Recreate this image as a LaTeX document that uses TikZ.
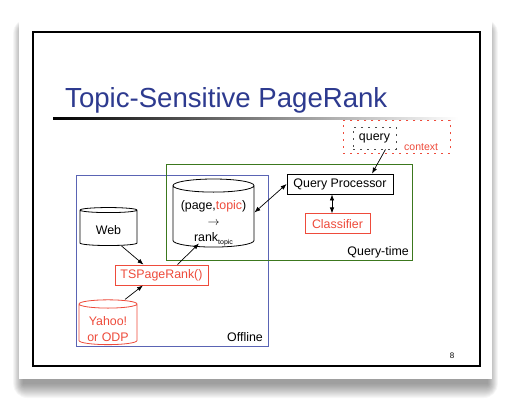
\documentclass[tikz,border=0pt]{standalone}
\usepackage{fontspec}
\setmainfont{Liberation Sans}
\usetikzlibrary{positioning,shapes.geometric,arrows.meta}
\definecolor{titleblue}{HTML}{2D3A8F}
\definecolor{offblue}{HTML}{5A64B4}
\definecolor{qgreen}{HTML}{3C781E}
\definecolor{tsred}{HTML}{EE4B3B}

\begin{document}
\begin{tikzpicture}[
  x=1pt, y=-1pt,
  every node/.style={font=\fontsize{12.4}{16}\selectfont},
  box/.style={draw, line width=0.8pt, inner sep=0, minimum height=20},
  redbox/.style={box, draw=tsred, text=tsred},
  drum/.style={cylinder, shape border rotate=90, aspect=0.2, draw, fill=white, line width=0.8pt, inner sep=0},
  zone/.style={draw, line width=1pt, inner sep=0, anchor=north west},
  arr/.style={-{Latex[length=6pt,width=4.5pt]}, line width=0.7pt},
  dbl/.style={{Latex[length=6pt,width=4.5pt]}-{Latex[length=6pt,width=4.5pt]}, line width=0.7pt}
]
\useasboundingbox (0,0) rectangle (524,412);
% soft shadow under the sheet
\foreach \i in {0,...,14}
  \fill[black, opacity=0.032, rounded corners=\i] (23-0.7*\i,30-0.8*\i) rectangle (488+0.7*\i,384+\i);
\node[fill=white, minimum width=473, minimum height=362, anchor=north west, inner sep=0] (paper) at (19,17) {};
\node[draw, line width=2pt, minimum width=447, minimum height=334, anchor=north west, inner sep=0] (frame) at (32,31) {};

% title
\node[font=\fontsize{27.6}{30}\selectfont, text=titleblue, anchor=base west, inner sep=0] (title) at (65,107) {Topic-Sensitive PageRank};
\shade[left color=black, right color=white] (53,117) rectangle (458,119.5);

% offline / query-time areas
\node[zone, draw=offblue, minimum width=192, minimum height=171] (offline) at (76,175) {};
\node[zone, draw=qgreen, minimum width=246, minimum height=96] (qtime) at (166,164) {};
\node[anchor=base east, inner sep=0] (offlbl) at ([shift={(-6,-6)}]offline.south east) {Offline};
\node[anchor=base east, inner sep=0] (qtlbl) at ([shift={(-4,-6)}]qtime.south east) {Query-time};

% query and context
\node[draw=tsred, dash pattern=on 2pt off 5pt, line width=0.8pt, minimum width=107, minimum height=33, anchor=north west, inner sep=0] (ctx) at (343,120) {};
\node[draw=black!70, dash pattern=on 2pt off 5pt, line width=0.8pt, minimum width=43, minimum height=22, inner sep=0] (qry) at (374.5,138) {query};
\node[text=tsred, font=\fontsize{10.5}{12}\selectfont, anchor=base west, inner sep=0] (ctxlbl) at (404,150) {context};

\node[box, minimum width=106] (qp) at (340,184) {Query Processor};
\node[redbox, minimum width=65, below=19pt of qp, xshift=-2.5pt] (cls) {Classifier};

% stores
\node[drum, minimum width=81, minimum height=61] (pg) at (213.5,216.5)
  {\raisebox{-5.5pt}[\height][\depth]{\begin{tabular}{@{}c@{}}(page,\textcolor{tsred}{topic})\\$\rightarrow$\\rank\raisebox{-3pt}{\fontsize{7}{8}\selectfont topic}\end{tabular}}};
\node[drum, minimum width=57, minimum height=38] (web) at (108.5,228) {\raisebox{-2pt}[\height][\depth]{Web}};
\node[redbox, minimum width=93] (tspr) at (161.5,275) {TSPageRank()};
\node[drum, draw=tsred, text=tsred, minimum width=58, minimum height=35] (yahoo) at (108,324.5)
  {\raisebox{-6pt}[\height][\depth]{\begin{tabular}{@{}c@{}}Yahoo!\\or ODP\end{tabular}}};

\node[font=\fontsize{8}{9}\selectfont, inner sep=0] (pnum) at (452,356) {8};

\draw[arr] ([xshift=11pt]qry.south) -- ([xshift=32pt]qp.north);
\draw[dbl] (qp.west) -- ([yshift=4pt]pg.east);
\draw[dbl] ([xshift=-5.5pt]cls.north) -- ([xshift=-5.5pt]cls.north |- qp.south);
\draw[arr] ([xshift=13pt]web.south) -- ([xshift=-18pt]tspr.north);
\draw[arr] ([xshift=16pt]tspr.north) -- ([xshift=-14.5pt, yshift=4pt]pg.south);
\draw[arr] ([xshift=17pt]yahoo.north) -- ([xshift=-18.5pt]tspr.south);
\end{tikzpicture}
\end{document}
